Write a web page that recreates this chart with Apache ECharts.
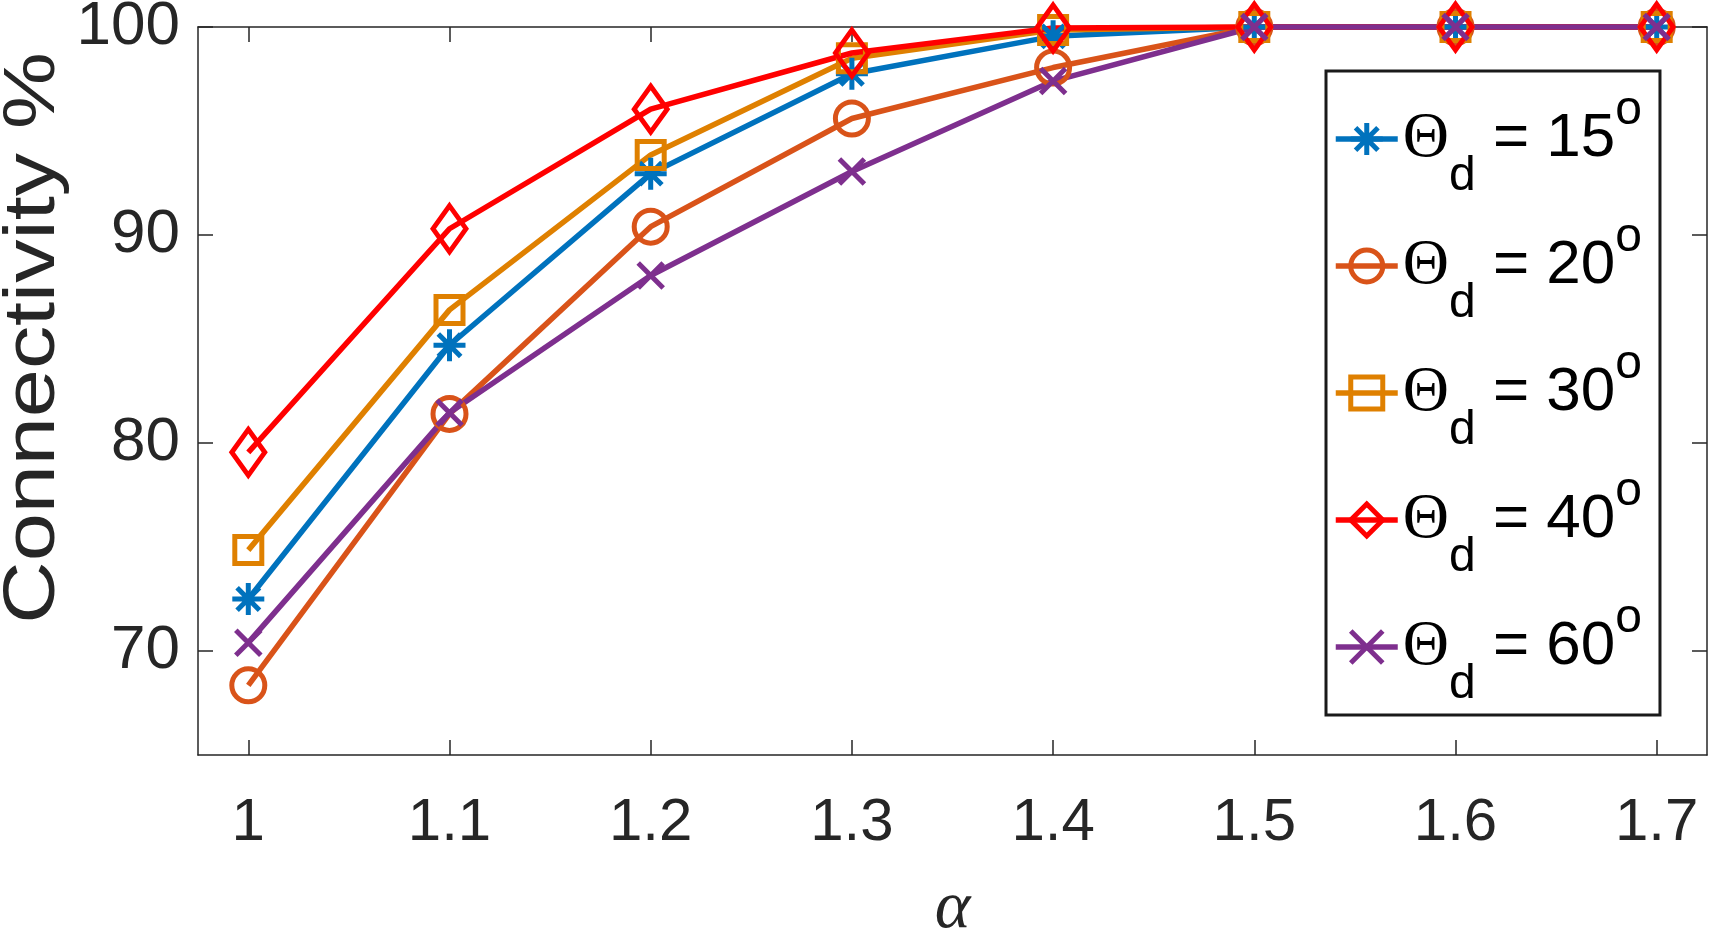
<!DOCTYPE html>
<html>
<head>
<meta charset="utf-8">
<script src="https://cdn.jsdelivr.net/npm/echarts@6/dist/echarts.min.js"></script>
<style>
    html, body { margin: 0; padding: 0; background: #fff; }
    #connectivityChart { width: 1716px; height: 930px; }
</style>
</head>
<body>
<div id="connectivityChart"></div>
<script>
    // alpha on the x axis
    let alphaValues = [1, 1.1, 1.2, 1.3, 1.4, 1.5, 1.6, 1.7];
    // connectivity % per beam width
    let theta15 = [72.5, 84.7, 92.95, 97.75, 99.55, 100, 100, 100];
    let theta20 = [68.35, 81.4, 90.4, 95.6, 98.05, 100, 100, 100];
    let theta30 = [74.85, 86.4, 93.85, 98.5, 99.85, 100, 100, 100];
    let theta40 = [79.55, 90.3, 96.05, 98.75, 99.95, 100, 100, 100];
    let theta60 = [70.4, 81.45, 88.05, 93.05, 97.4, 100, 100, 100];
    let thetaAngles = ['15', '20', '30', '40', '60'];
    let xTicks = [1, 1.1, 1.2, 1.3, 1.4, 1.5, 1.6, 1.7];
    let yTicks = [70, 80, 90, 100];

    let axisColor = '#262626';
    let asteriskPath = 'path://M5 0L5 10M0 5L10 5M1.5 1.5L8.5 8.5M1.5 8.5L8.5 1.5';
    let crossPath = 'path://M0 0L10 10M0 10L10 0';

    let chartDom = document.getElementById('connectivityChart');
    let myChart = echarts.init(chartDom);

    let seriesName = function (angle) {
        return 'Θd = ' + angle + '°';
    };

    let makeSeries = function (angle, values, color, symbol, size) {
        return {
            name: seriesName(angle),
            type: 'line',
            xAxisIndex: 0,
            yAxisIndex: 0,
            data: alphaValues.map(function (a, i) { return [a, values[i]]; }),
            symbol: symbol,
            symbolSize: size,
            clip: false,
            lineStyle: { color: color, width: 5.5 },
            itemStyle: { color: 'rgba(0,0,0,0)', borderColor: color, borderWidth: 5 },
            emphasis: { disabled: true }
        };
    };

    let xAxisBase = function (position, showLabel) {
        return {
            type: 'value',
            position: position,
            min: 0.975,
            max: 1.725,
            axisLine: { show: true, onZero: false, lineStyle: { color: axisColor, width: 1.5 } },
            axisTick: { show: true, inside: true, length: 15, customValues: xTicks, lineStyle: { color: axisColor, width: 1.5 } },
            axisLabel: {
                show: showLabel,
                customValues: xTicks,
                margin: 38,
                fontSize: 60,
                fontFamily: 'Liberation Sans',
                color: axisColor,
                formatter: function (v) { return String(v); }
            },
            splitLine: { show: false }
        };
    };

    let yAxisBase = function (position, showLabel) {
        return {
            type: 'value',
            position: position,
            min: 65,
            max: 100,
            axisLine: { show: true, onZero: false, lineStyle: { color: axisColor, width: 1.5 } },
            axisTick: { show: true, inside: true, length: 15, customValues: yTicks, lineStyle: { color: axisColor, width: 1.5 } },
            axisLabel: {
                show: showLabel,
                customValues: yTicks,
                margin: 18,
                fontSize: 62,
                fontFamily: 'Liberation Sans',
                color: axisColor
            },
            splitLine: { show: false }
        };
    };

    let xBottom = xAxisBase('bottom', true);
    xBottom.name = 'α';
    xBottom.nameLocation = 'middle';
    xBottom.nameGap = 120;
    xBottom.nameTextStyle = { fontFamily: 'Liberation Serif', fontStyle: 'italic', fontSize: 68, color: axisColor };

    let option = {
        animation: false,
        backgroundColor: '#fff',
        grid: { left: 198, right: 9, top: 27, bottom: 175, outerBoundsMode: 'none' },
        xAxis: [xBottom, xAxisBase('top', false)],
        yAxis: [yAxisBase('left', true), yAxisBase('right', false)],
        legend: {
            orient: 'vertical',
            left: 1326,
            top: 71,
            padding: [6, 18, 6, 7],
            itemWidth: 62,
            itemHeight: 40,
            itemGap: 3,
            borderColor: '#1a1a1a',
            borderWidth: 3,
            backgroundColor: '#fff',
            itemStyle: { borderWidth: 5 },
            lineStyle: { width: 5.5 },
            formatter: function (name) {
                let idx = thetaAngles.findIndex(function (a) { return seriesName(a) === name; });
                return '{t|Θ}{s|d}{e| = ' + thetaAngles[idx] + '}{o|o}';
            },
            textStyle: {
                color: '#000',
                fontFamily: 'Liberation Sans',
                fontSize: 62,
                lineHeight: 124,
                rich: {
                    t: { fontFamily: 'Liberation Serif', fontSize: 64 },
                    s: { fontFamily: 'Liberation Sans', fontSize: 48, padding: [76, 0, 0, 0] },
                    e: { fontFamily: 'Liberation Sans', fontSize: 62 },
                    o: { fontFamily: 'Liberation Sans', fontSize: 48, padding: [0, 0, 56, 0] }
                }
            }
        },
        graphic: [{
            type: 'text',
            x: 34,
            y: 338,
            rotation: Math.PI / 2,
            scaleX: 1.2,
            style: {
                text: 'Connectivity %',
                fontSize: 72,
                fontFamily: 'Liberation Sans',
                fill: axisColor,
                align: 'center',
                verticalAlign: 'middle'
            }
        }],
        series: [
            makeSeries('15', theta15, '#0072BD', asteriskPath, 32),
            makeSeries('20', theta20, '#D95319', 'circle', 33),
            makeSeries('30', theta30, '#DF8000', 'rect', 27),
            makeSeries('40', theta40, '#FF0000', 'diamond', [33, 46]),
            makeSeries('60', theta60, '#7E2F8E', crossPath, 25)
        ]
    };

    myChart.setOption(option);
</script>
</body>
</html>
